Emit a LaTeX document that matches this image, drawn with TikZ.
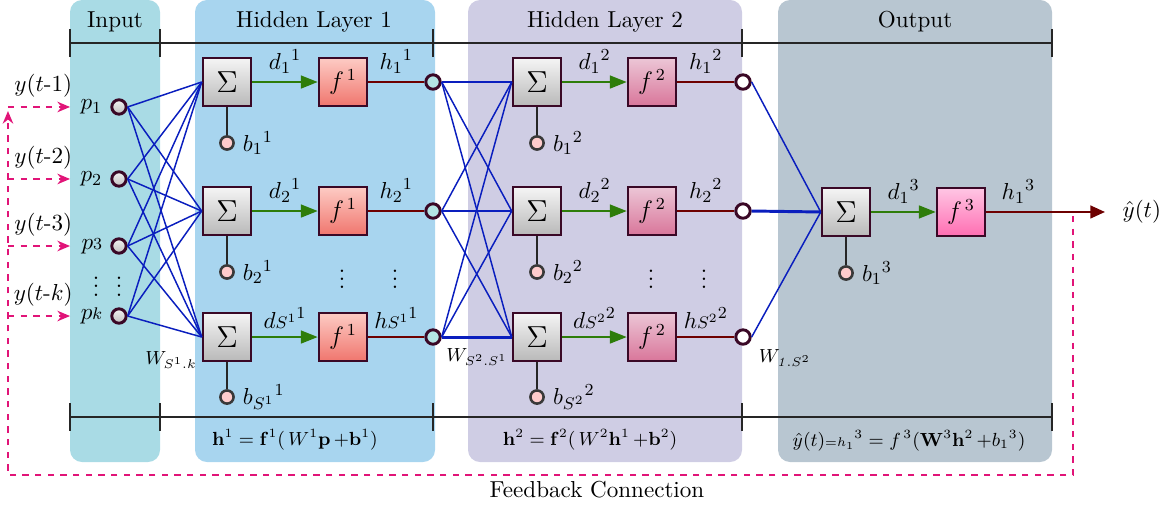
\documentclass[tikz,border=0pt,11pt]{standalone}
\usepackage{tikz}
\usetikzlibrary{arrows.meta, positioning}
\usepackage{xcolor}
\definecolor{cinput}{RGB}{169,219,229}
\definecolor{chidone}{RGB}{168,213,239}
\definecolor{chidtwo}{RGB}{207,205,228}
\definecolor{coutput}{RGB}{184,198,209}
\definecolor{mborder}{RGB}{58,8,38}
\definecolor{mwire}{RGB}{10,30,190}
\definecolor{mgreen}{RGB}{46,125,10}
\definecolor{mred}{RGB}{110,0,0}
\definecolor{mfeed}{RGB}{225,20,120}
\definecolor{fonetop}{RGB}{253,203,196}
\definecolor{fonebot}{RGB}{240,118,110}
\definecolor{ftwotop}{RGB}{236,198,214}
\definecolor{ftwobot}{RGB}{217,118,154}
\definecolor{fthrtop}{RGB}{255,198,228}
\definecolor{fthrbot}{RGB}{255,110,178}
\definecolor{hcirc}{RGB}{180,228,228}
\definecolor{bcirc}{RGB}{255,204,204}

\begin{document}
\begin{tikzpicture}[
  sumbox/.style={draw=mborder, line width=1.2pt, top color=gray!8, bottom color=gray!55,
                 minimum size=0.8cm, inner sep=0pt, font=\Large},
  actbox/.style={draw=mborder, line width=1.2pt, minimum size=0.8cm, inner sep=0pt, font=\large},
  fone/.style={actbox, top color=fonetop, bottom color=fonebot},
  ftwo/.style={actbox, top color=ftwotop, bottom color=ftwobot},
  fthr/.style={actbox, top color=fthrtop, bottom color=fthrbot},
  incirc/.style={circle, draw=mborder, line width=1.4pt, top color=gray!10, bottom color=gray!50,
                 minimum size=0.24cm, inner sep=0pt},
  outcirc/.style={circle, draw=mborder, line width=1.4pt, minimum size=0.24cm, inner sep=0pt},
  biascirc/.style={circle, draw=gray!45!black, line width=1.2pt, fill=bcirc,
                   minimum size=0.22cm, inner sep=0pt},
  vdot/.style={inner sep=0pt},
  wire/.style={draw=mwire, line width=0.7pt},
  wirebold/.style={draw=mwire, line width=1.4pt},
  netin/.style={draw=mgreen, line width=1.2pt, -{Triangle[length=8pt, width=6pt]}},
  netout/.style={draw=mred, line width=1.2pt},
  biasline/.style={draw=black!85, line width=0.6pt},
  bracket/.style={draw=black!85, line width=0.8pt},
  formula/.style={font=\footnotesize},
  weight/.style={font=\footnotesize},
  feed/.style={draw=mfeed, line width=0.8pt, dashed, -{Stealth[length=6pt, width=5pt]}},
  fblab/.style={above=3pt, xshift=2pt, inner sep=1pt},
]
\useasboundingbox (0,0) rectangle (19.483,-8.417);

\fill[cinput, rounded corners=0.2cm] (1.167,0) rectangle (2.667,-7.7);
\fill[chidone, rounded corners=0.2cm] (3.25,0) rectangle (7.25,-7.7);
\fill[chidtwo, rounded corners=0.2cm] (7.8,0) rectangle (12.367,-7.7);
\fill[coutput, rounded corners=0.2cm] (12.967,0) rectangle (17.533,-7.7);

\node (tin) at (1.917,-0.367) {Input};
\node (thone) at (5.233,-0.367) {Hidden Layer 1};
\node (thtwo) at (10.083,-0.367) {Hidden Layer 2};
\node (tout) at (15.25,-0.367) {Output};

\draw[bracket] (1.167,-0.717) -- (17.533,-0.717);
\draw[bracket] (1.167,-6.95) -- (17.533,-6.95);
\foreach \x in {1.167,2.667,7.217,12.367,17.533} {
  \draw[bracket] (\x,-0.483) -- (\x,-0.95);
  \draw[bracket] (\x,-6.717) -- (\x,-7.183);
}

\node[incirc] (p1) at (1.983,-1.783) {};
\node[incirc] (p2) at (1.983,-2.983) {};
\node[incirc] (p3) at (1.983,-4.1) {};
\node[incirc] (pk) at (1.983,-5.267) {};
\node[left=0pt of p1] (lp1) {$p_1$};
\node[left=0pt of p2] (lp2) {$p_2$};
\node[left=0pt of p3] (lp3) {$p{\scriptstyle 3}$};
\node[left=0pt of pk] (lpk) {$p{\scriptstyle k}$};
\node[vdot] (dinl) at (1.6,-4.667) {$\vdots$};
\node[vdot] (dinr) at (1.983,-4.667) {$\vdots$};

\node[sumbox] (s11) at (3.783,-1.367) {$\Sigma$};
\node[sumbox] (s12) at (3.783,-3.517) {$\Sigma$};
\node[sumbox] (s13) at (3.783,-5.617) {$\Sigma$};
\node[fone] (f11) at (5.717,-1.367) {$f^{\,1}$};
\node[fone] (f12) at (5.717,-3.517) {$f^{\,1}$};
\node[fone] (f13) at (5.717,-5.617) {$f^{\,1}$};
\node[outcirc, fill=hcirc] (h11) at (7.217,-1.367) {};
\node[outcirc, fill=hcirc] (h12) at (7.217,-3.517) {};
\node[outcirc, fill=hcirc] (h13) at (7.217,-5.617) {};
\node[biascirc] (b11) at (3.783,-2.383) {};
\node[biascirc] (b12) at (3.783,-4.533) {};
\node[biascirc] (b13) at (3.783,-6.617) {};
\node[right=0pt of b11] (lb11) {${b_1}^1$};
\node[right=0pt of b12] (lb12) {${b_2}^1$};
\node[right=0pt of b13] (lb13) {${b_{S^1}}^1$};
\node[vdot] (dhonel) at (5.7,-4.55) {\large$\vdots$};
\node[vdot] (dhoner) at (6.583,-4.55) {\large$\vdots$};

\node[sumbox] (s21) at (8.95,-1.367) {$\Sigma$};
\node[sumbox] (s22) at (8.95,-3.517) {$\Sigma$};
\node[sumbox] (s23) at (8.95,-5.617) {$\Sigma$};
\node[ftwo] (f21) at (10.867,-1.367) {$f^{\,2}$};
\node[ftwo] (f22) at (10.867,-3.517) {$f^{\,2}$};
\node[ftwo] (f23) at (10.867,-5.617) {$f^{\,2}$};
\node[outcirc, fill=white] (h21) at (12.383,-1.367) {};
\node[outcirc, fill=white] (h22) at (12.383,-3.517) {};
\node[outcirc, fill=white] (h23) at (12.383,-5.617) {};
\node[biascirc] (b21) at (8.95,-2.383) {};
\node[biascirc] (b22) at (8.95,-4.533) {};
\node[biascirc] (b23) at (8.95,-6.617) {};
\node[right=0pt of b21] (lb21) {${b_1}^2$};
\node[right=0pt of b22] (lb22) {${b_2}^2$};
\node[right=0pt of b23] (lb23) {${b_{S^2}}^2$};
\node[vdot] (dhtwol) at (10.85,-4.55) {\large$\vdots$};
\node[vdot] (dhtwor) at (11.733,-4.55) {\large$\vdots$};

\node[sumbox] (s31) at (14.1,-3.533) {$\Sigma$};
\node[fthr] (f31) at (16.017,-3.533) {$f^{\,3}$};
\node[biascirc] (b31) at (14.1,-4.55) {};
\node[right=0pt of b31] (lb31) {${b_1}^3$};
\coordinate (yend) at (18.417,-3.533);
\node (yhat) at (19.03,-3.533) {$\hat{y}(t)$};

\foreach \i in {p1,p2,p3,pk}
  \foreach \j in {s11,s12,s13}
    \draw[wire] (\i.east) -- (\j.west);
\foreach \i in {h11,h12,h13}
  \foreach \j in {s21,s22,s23}
    \draw[wire] (\i.east) -- (\j.west);
\draw[wirebold] (h11.east) -- (s21.west);
\draw[wirebold] (h12.east) -- (s22.west);
\draw[wirebold] (h13.east) -- (s23.west);
\draw[wire] (h21.east) -- (s31.west);
\draw[wirebold] (h22.east) -- (s31.west);
\draw[wire] (h23.east) -- (s31.west);

\draw[netin] (s11) -- node[above] {${d_1}^1$} (f11);
\draw[netin] (s12) -- node[above] {${d_2}^1$} (f12);
\draw[netin] (s13) -- node[above] {${d{\scriptstyle S^{1}}}^1$} (f13);
\draw[netout] (f11) -- node[above] {${h_1}^1$} (h11);
\draw[netout] (f12) -- node[above] {${h_2}^1$} (h12);
\draw[netout] (f13) -- node[above] {${h{\scriptstyle S^{1}}}^1$} (h13);
\draw[netin] (s21) -- node[above] {${d_1}^2$} (f21);
\draw[netin] (s22) -- node[above] {${d_2}^2$} (f22);
\draw[netin] (s23) -- node[above] {${d{\scriptstyle S^{2}}}^2$} (f23);
\draw[netout] (f21) -- node[above] {${h_1}^2$} (h21);
\draw[netout] (f22) -- node[above] {${h_2}^2$} (h22);
\draw[netout] (f23) -- node[above] {${h{\scriptstyle S^{2}}}^2$} (h23);
\draw[netin] (s31) -- node[above] {${d_1}^3$} (f31);
\draw[netout, -{Triangle[length=7pt, width=6pt]}] (f31) -- node[above, pos=0.27] {${h_1}^3$} (yend);

\draw[biasline] (s11) -- (b11);
\draw[biasline] (s12) -- (b12);
\draw[biasline] (s13) -- (b13);
\draw[biasline] (s21) -- (b21);
\draw[biasline] (s22) -- (b22);
\draw[biasline] (s23) -- (b23);
\draw[biasline] (s31) -- (b31);

\node[weight] (wone) at (2.85,-6.0) {$W_{S^1.k}$};
\node[weight] (wtwo) at (7.95,-5.95) {$W_{S^2.S^1}$};
\node[weight] (wthr) at (13.083,-5.967) {$W_{\mathit{1}.S^2}$};

\node[formula] (fmone) at (4.917,-7.333) {$\mathbf{h}^1 = \mathbf{f}^1(\,W^1\mathbf{p}\,{+}\mathbf{b}^1)$};
\node[formula] (fmtwo) at (9.833,-7.333) {$\mathbf{h}^2 = \mathbf{f}^2(\,W^2\mathbf{h}^1\,{+}\mathbf{b}^2)$};
\node[formula] (fmthr) at (15.15,-7.35) {$\hat{y}(t){\scriptstyle =h_1}{}^3 = f^{\,3}(\mathbf{W}^3\mathbf{h}^2\,{+}{b_1}^3)$};

\coordinate (fbstart) at (17.883,-3.6);
\coordinate (fbcorner) at (0.133,-7.917);
\coordinate (fbtop) at (0.133,-1.85);
\draw[feed] (fbstart) |- (fbcorner) -- (fbtop);
\node (fbtext) at (9.95,-8.167) {Feedback Connection};

\coordinate (ya) at (0.133,-1.783); \coordinate (ea) at (1.167,-1.783);
\coordinate (yb) at (0.133,-2.983); \coordinate (eb) at (1.167,-2.983);
\coordinate (yc) at (0.133,-4.1);   \coordinate (ec) at (1.167,-4.1);
\coordinate (yk) at (0.133,-5.267); \coordinate (ek) at (1.167,-5.267);
\draw[feed] (ya) -- node[fblab] (ly1) {$y(t$-$1)$} (ea);
\draw[feed] (yb) -- node[fblab] (ly2) {$y(t$-$2)$} (eb);
\draw[feed] (yc) -- node[fblab] (ly3) {$y(t$-$3)$} (ec);
\draw[feed] (yk) -- node[fblab] (lyk) {$y(t$-$k)$} (ek);
\end{tikzpicture}
\end{document}
